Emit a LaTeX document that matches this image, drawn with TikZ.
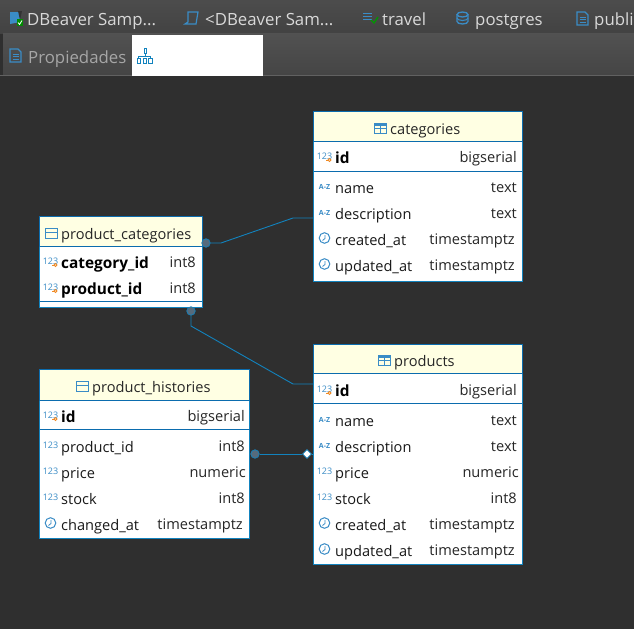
\documentclass[tikz,border=0pt]{standalone}
\usepackage{fontspec}
\setmainfont{Open Sans}
\usepackage{xcolor}
\usetikzlibrary{shapes.geometric, positioning, calc}

\definecolor{erdblue}{HTML}{1283BE}
\definecolor{erdline}{HTML}{0B6CAE}
\definecolor{iconblue}{HTML}{3A8CC6}
\definecolor{headyellow}{HTML}{FFFFE3}
\definecolor{canvasdark}{HTML}{2F2F2F}
\definecolor{keyorange}{HTML}{F08A24}
\definecolor{dotgrey}{HTML}{566B7C}

\tikzset{
    numicon/.pic={
        \node[icontext, font=\fontsize{9}{9}\selectfont] (numtext) at (6.5,-7) {123};
    },
    keyicon/.pic={
        \node[icontext, font=\fontsize{9}{9}\selectfont] (keytext) at (6.5,-7) {123};
        \draw[keyorange, line width=0.9pt] (11.5,-3) circle (1.5);
        \draw[keyorange, line width=0.9pt] (10,-3) -- (8,-3);
    },
    alphaicon/.pic={
        \node[icontext, font=\fontsize{7}{8}\selectfont\bfseries] (alphatext) at (6.5,-6.5) {A-Z};
    },
    clockicon/.pic={
        \draw[iconblue, fill=white, line width=1pt] (6.5,-7) circle (5.3);
        \draw[iconblue, line width=0.8pt] (7,-10) -- (7,-6.5) -- (4.5,-4.5);
    },
    gridicon/.pic={
        \draw[iconblue, line width=1pt] (0,-11) rectangle (12,-1);
        \draw[iconblue, line width=1pt] (0,-6) -- (12,-6);
        \draw[iconblue, line width=1pt] (6,-8.5) -- (6,-1);
        \draw[iconblue, line width=1.6pt] (0,-9) -- (12,-9);
    },
    tableicon/.pic={
        \draw[iconblue, line width=1pt] (0,-11) rectangle (12,-1);
        \draw[iconblue, line width=1pt] (0,-6.5) -- (12,-6.5);
    }
}

\begin{document}
\begin{tikzpicture}[
    x=1pt, y=-1pt,
    tablebox/.style={rectangle, draw=erdblue, line width=1pt, fill=white,
                     inner sep=0pt, outer sep=0pt, anchor=north west},
    tablehead/.style={rectangle, draw=erdline, line width=0.8pt, fill=headyellow,
                      inner sep=0pt, outer sep=0pt, anchor=north west},
    headname/.style={font=\fontsize{14.6}{16}\selectfont, text=black!85, anchor=base west, inner sep=0pt},
    colname/.style={font=\fontsize{14.6}{16}\selectfont, text=black!90, anchor=base west, inner sep=0pt},
    keyname/.style={font=\fontsize{15.4}{16}\selectfont\bfseries, text=black, anchor=base west, inner sep=0pt},
    coltype/.style={font=\fontsize{14.6}{16}\selectfont, text=black!85, anchor=base east, inner sep=0pt},
    icontext/.style={text=iconblue, inner sep=0pt},
    toptab/.style={font=\fontsize{16.8}{18}\selectfont, text=black!15, anchor=base west, inner sep=0pt},
    subtab/.style={font=\fontsize{16.8}{18}\selectfont, text=black!35, anchor=base west, inner sep=0pt},
    relline/.style={draw=erdblue, line width=0.9pt},
    reldot/.style={circle, draw=erdblue, line width=0.7pt, fill=dotgrey, minimum size=8.5pt, inner sep=0pt},
    reldiamond/.style={diamond, draw=erdblue, line width=0.7pt, fill=white, minimum size=9pt, inner sep=0pt}
]
\useasboundingbox (0,0) rectangle (634,629);
% window
\fill[canvasdark] (0,0) rectangle (634,629);
\shade[top color=black!70, bottom color=black!74, shading angle=0] (0,0) rectangle (634,33);
\shade[top color=black!68, bottom color=black!73] (3,33) rectangle (634,75);
\fill[black!62] (0,75) rectangle (634,76);
\fill[white] (132,35) rectangle (263,76);

% tabs
\node[toptab] (tabsample) at (27,25.5) {DBeaver Samp...};
\node[toptab] (tabscript) at (205,25.5) {<DBeaver Sam...};
\node[toptab] (tabtravel) at (382,25.5) {travel};
\node[toptab] (tabpostgres) at (475,25.5) {postgres};
\node[toptab] (tabpublic) at (594,25.5) {publi};
\node[subtab] (tabprops) at (28,63) {Propiedades};

% tab icons
\fill[iconblue] (10,12) -- (20,12) -- (20,22) -- (10,24) -- cycle;
\fill[black!80] (18,11) -- (22,11) -- (20,20) -- cycle;
\fill[green!55!black] (17,19) rectangle (23,26);
\draw[white, line width=0.8pt] (18,22.5) -- (19.5,24.5) -- (22,20.5);
\draw[iconblue, line width=1.2pt] (188,12) -- (198,12) -- (196,24) -- (185,24) -- (188,22) -- cycle;
\foreach \y in {13,16,19} {
    \draw[iconblue, line width=1pt] (363,\y) -- (372,\y);
}
\draw[green!60!black, line width=1.3pt] (371,20) -- (374,23) -- (378,17);
\draw[iconblue, line width=1.3pt] (457,14.5) -- (457,21.5) arc[start angle=180, end angle=0, x radius=5.5, y radius=2.5] -- (468,14.5);
\draw[iconblue, line width=1.3pt] (462.5,14.5) ellipse (5.5 and 2.5);
\draw[iconblue, line width=1.1pt] (457,18) arc[start angle=180, end angle=0, x radius=5.5, y radius=2.5];
\foreach \x/\y in {577/12,10/49} {
    \draw[iconblue, line width=1.2pt] (\x,\y) -- +(8,0) -- +(11,3) -- +(11,13) -- +(0,13) -- cycle;
    \draw[iconblue, line width=1pt] (\x+2.5,\y+5) -- +(6,0) (\x+2.5,\y+7.5) -- +(6,0) (\x+2.5,\y+10) -- +(6,0);
}
\draw[erdblue, line width=1pt] (144,48) rectangle (146,53);
\draw[erdblue, line width=0.8pt] (145,53) -- (145,56) (138.5,58) -- (138.5,56) -- (150,56) -- (150,58);
\foreach \x in {137,143,148.5} {
    \draw[erdblue, line width=1pt] (\x,58) rectangle +(3.5,5);
}

% categories
\node[tablebox, minimum width=208.5pt, minimum height=169.5pt] (categories) at (313.5,111.5) {};
\node[tablehead, minimum width=208.5pt, minimum height=29.5pt] (categories-head) at (categories.north west) {};
\pic at (374,134) {gridicon};
\node[headname] (categories-title) at (390,134) {categories};
\draw[draw=erdline, line width=0.8pt] (categories.west |- 0,171) -- (categories.east |- 0,171);
\pic at (318,163) {keyicon};
\node[keyname] (categories-id) at (335,163) {id};
\node[coltype] (categories-idtype) at (517,162) {bigserial};
\foreach \y/\ic/\name/\tx/\type [count=\i] in {193/alphaicon/name/517/text, 219/alphaicon/description/517/text,
    245/clockicon/created\_at/515/timestamptz, 271/clockicon/updated\_at/515/timestamptz} {
    \pic at (318,\y) {\ic};
    \node[colname] (categories-col\i) at (335,\y) {\name};
    \node[coltype] (categories-type\i) at (\tx,\y-1) {\type};
}

% products
\node[tablebox, minimum width=208.5pt, minimum height=219.5pt] (products) at (313.5,344.5) {};
\node[tablehead, minimum width=208.5pt, minimum height=28.5pt] (products-head) at (products.north west) {};
\pic at (378,366) {gridicon};
\node[headname] (products-title) at (394,366) {products};
\draw[draw=erdline, line width=0.8pt] (products.west |- 0,403) -- (products.east |- 0,403);
\pic at (318,396) {keyicon};
\node[keyname] (products-id) at (335,396) {id};
\node[coltype] (products-idtype) at (517,395) {bigserial};
\foreach \y/\ic/\name/\tx/\type [count=\i] in {426/alphaicon/name/517/text, 452/alphaicon/description/517/text,
    478/numicon/price/519/numeric, 504/numicon/stock/517/int8,
    530/clockicon/created\_at/515/timestamptz, 556/clockicon/updated\_at/515/timestamptz} {
    \pic at (318,\y) {\ic};
    \node[colname] (products-col\i) at (335,\y) {\name};
    \node[coltype] (products-type\i) at (\tx,\y-1) {\type};
}

% product_categories
\node[tablebox, minimum width=162.5pt, minimum height=90.5pt] (prodcats) at (39.5,216.5) {};
\node[tablehead, minimum width=162.5pt, minimum height=29.5pt] (prodcats-head) at (prodcats.north west) {};
\pic at (45,239) {tableicon};
\node[headname] (prodcats-title) at (61,239) {product\_categories};
\draw[draw=erdline, line width=0.8pt] (prodcats.west |- 0,301) -- (prodcats.east |- 0,301);
\foreach \y/\name [count=\i] in {268/category\_id, 294/product\_id} {
    \pic at (44,\y) {keyicon};
    \node[keyname] (prodcats-col\i) at (61,\y) {\name};
    \node[coltype] (prodcats-type\i) at (196,\y-1) {int8};
}

% product_histories
\node[tablebox, minimum width=210pt, minimum height=168.5pt] (histories) at (39.5,369.5) {};
\node[tablehead, minimum width=210pt, minimum height=30.5pt] (histories-head) at (histories.north west) {};
\pic at (76,392) {tableicon};
\node[headname] (histories-title) at (92,392) {product\_histories};
\draw[draw=erdline, line width=0.8pt] (histories.west |- 0,429) -- (histories.east |- 0,429);
\pic at (44,422) {keyicon};
\node[keyname] (histories-id) at (61,422) {id};
\node[coltype] (histories-idtype) at (245,421) {bigserial};
\foreach \y/\ic/\name/\tx/\type [count=\i] in {452/numicon/product\_id/245/int8, 478/numicon/price/246/numeric,
    504/numicon/stock/245/int8, 530/clockicon/changed\_at/243/timestamptz} {
    \pic at (44,\y) {\ic};
    \node[colname] (histories-col\i) at (61,\y) {\name};
    \node[coltype] (histories-type\i) at (\tx,\y-1) {\type};
}

% relations
\node[reldot] (catsdot) at (206,243) {};
\node[reldot] (prodsdot) at (191,311) {};
\node[reldot] (histdot) at (255,454) {};
\node[reldiamond] (histmark) at (307,454) {};
\draw[relline] (catsdot) -- (221,243) -- (293,218) -- (categories.west |- 0,218);
\draw[relline] (prodsdot) -- (191,326) -- (293,384) -- (products.west |- 0,384);
\draw[relline] (histdot) -- (histmark);
\draw[relline] (histmark) -- (products.west |- histmark);
\end{tikzpicture}
\end{document}
